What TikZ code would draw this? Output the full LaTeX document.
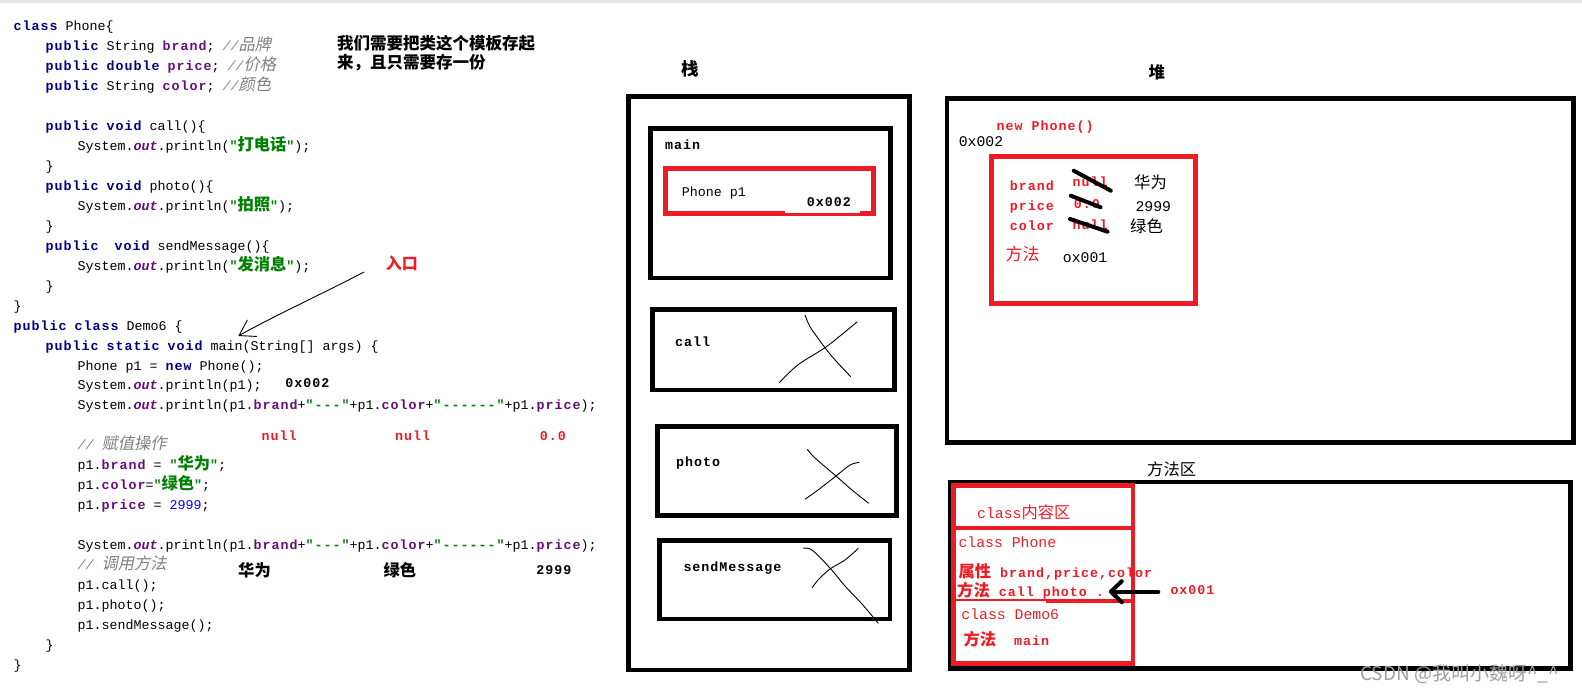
\documentclass[tikz,border=0pt]{standalone}
\usepackage{fontspec}
\setmonofont{Liberation Mono}[BoldFeatures={LetterSpace=7.5}]
\newfontfamily\cjk{Noto Sans CJK SC}[AutoFakeSlant=0.2]
\usetikzlibrary{arrows.meta}

\definecolor{kwblue}{RGB}{0,0,128}
\definecolor{fdpurple}{RGB}{102,14,122}
\definecolor{strgreen}{RGB}{0,128,0}
\definecolor{cmgray}{RGB}{128,128,128}
\definecolor{numblue}{RGB}{0,0,255}
\definecolor{pred}{RGB}{237,28,36}

% 代码着色
\newcommand{\zh}[1]{{\cjk\fontsize{16.3}{18}\selectfont #1}}
\newcommand{\kw}[1]{\textcolor{kwblue}{\bfseries #1}}
\newcommand{\fd}[1]{\textcolor{fdpurple}{\bfseries #1}}
\newcommand{\ot}{\textcolor{fdpurple}{\bfseries\itshape out}}
\newcommand{\st}[1]{\textcolor{strgreen}{\bfseries #1}}
\newcommand{\cm}[1]{\textcolor{cmgray}{\itshape #1}}
\newcommand{\nm}[1]{\textcolor{numblue}{#1}}

\begin{document}
\begin{tikzpicture}[x=1pt, y=-1pt,
  mono/.style={anchor=base west, inner sep=0pt, font=\ttfamily\fontsize{13.33}{16}\selectfont},
  bmono/.style={mono, font=\ttfamily\bfseries\fontsize{13.33}{16}\selectfont},
  lmono/.style={mono, font=\ttfamily\fontsize{14.8}{17}\selectfont},
  zhtxt/.style={anchor=base west, inner sep=0pt, font=\cjk\fontsize{16.3}{18}\selectfont},
  blkframe/.style={draw=black, line width=4.5pt},
  redframe/.style={draw=pred, line width=4.7pt},
  xmark/.style={line width=0.9pt},
  strikeout/.style={line width=4pt, line cap=round}]
    \useasboundingbox (0,0) rectangle (1582,691);
    \draw[black!10, line width=2.5pt] (0,1.3) -- (1582,1.3);

    % 源代码
    \node[mono] (ln0)  at (13.4,30.8)  {\kw{class} Phone\{};
    \node[mono] (ln1)  at (45.4,50.8)  {\kw{public} String \fd{brand}; \cm{//\zh{品牌}}};
    \node[mono] (ln2)  at (45.4,70.7)  {\kw{public} \kw{double} \fd{price}; \cm{//\zh{价格}}};
    \node[mono] (ln3)  at (45.4,90.7)  {\kw{public} String \fd{color}; \cm{//\zh{颜色}}};
    \node[mono] (ln5)  at (45.4,130.6) {\kw{public} \kw{void} call()\{};
    \node[mono] (ln6)  at (77.4,150.5) {System.\ot.println(\st{"\zh{打电话}"});};
    \node[mono] (ln7)  at (45.4,170.5) {\}};
    \node[mono] (ln8)  at (45.4,190.4) {\kw{public} \kw{void} photo()\{};
    \node[mono] (ln9)  at (77.4,210.4) {System.\ot.println(\st{"\zh{拍照}"});};
    \node[mono] (ln10) at (45.4,230.3) {\}};
    \node[mono] (ln11) at (45.4,250.3) {\kw{public}\ \ \kw{void} sendMessage()\{};
    \node[mono] (ln12) at (77.4,270.2) {System.\ot.println(\st{"\zh{发消息}"});};
    \node[mono] (ln13) at (45.4,290.2) {\}};
    \node[mono] (ln14) at (13.4,310.1) {\}};
    \node[mono] (ln15) at (13.4,330.1) {\kw{public} \kw{class} Demo6 \{};
    \node[mono] (ln16) at (45.4,350.0) {\kw{public} \kw{static} \kw{void} main(String[] args) \{};
    \node[mono] (ln17) at (77.4,370.0) {Phone p1 = \kw{new} Phone();};
    \node[mono] (ln18) at (77.4,389.9) {System.\ot.println(p1);};
    \node[mono] (ln19) at (77.4,409.9) {System.\ot.println(p1.\fd{brand}+\st{"---"}+p1.\fd{color}+\st{"------"}+p1.\fd{price});};
    \node[mono] (ln21) at (77.4,449.8) {\cm{// \zh{赋值操作}}};
    \node[mono] (ln22) at (77.4,469.7) {p1.\fd{brand} = \st{"\zh{华为}"};};
    \node[mono] (ln23) at (77.4,489.7) {p1.\fd{color}=\st{"\zh{绿色}"};};
    \node[mono] (ln24) at (77.4,509.6) {p1.\fd{price} = \nm{2999};};
    \node[mono] (ln26) at (77.4,549.5) {System.\ot.println(p1.\fd{brand}+\st{"---"}+p1.\fd{color}+\st{"------"}+p1.\fd{price});};
    \node[mono] (ln27) at (77.4,569.5) {\cm{// \zh{调用方法}}};
    \node[mono] (ln28) at (77.4,589.4) {p1.call();};
    \node[mono] (ln29) at (77.4,609.4) {p1.photo();};
    \node[mono] (ln30) at (77.4,629.3) {p1.sendMessage();};
    \node[mono] (ln31) at (45.4,649.3) {\}};
    \node[mono] (ln32) at (13.4,669.2) {\}};

    % 代码旁的批注
    \node[zhtxt, font=\cjk\bfseries\fontsize{16.5}{18}\selectfont] (note1) at (337,49) {我们需要把类这个模板存起};
    \node[zhtxt, font=\cjk\bfseries\fontsize{16.5}{18}\selectfont] (note2) at (337,68.5) {来，且只需要存一份};
    \node[zhtxt, font=\cjk\bfseries\fontsize{16}{18}\selectfont, text=pred] (entry) at (385.7,269) {入口};
    \coordinate (entTail) at (364,272);
    \coordinate (entTip) at (238.3,336);
    \draw[line width=0.9pt, -{Straight Barb[length=15pt,width=19pt]}] (entTail) .. controls (330,290) and (270,318) .. (entTip);
    \node[bmono] (addr1) at (285.2,387.3) {0x002};
    \node[bmono, text=pred] (nulla) at (261.5,440.7) {null};
    \node[bmono, text=pred] (nullb) at (395,440.7) {null};
    \node[bmono, text=pred] (zeroa) at (539.7,440.7) {0.0};
    \node[zhtxt, font=\cjk\bfseries\fontsize{16.3}{18}\selectfont] (hwa) at (238,576) {华为};
    \node[zhtxt, font=\cjk\bfseries\fontsize{16.3}{18}\selectfont] (lsa) at (383.3,576) {绿色};
    \node[bmono] (pra) at (536.2,574) {2999};

    % 栈
    \node[zhtxt, font=\cjk\bfseries\fontsize{17.5}{20}\selectfont] (stk) at (681.7,75) {栈};
    \draw[blkframe] (628.7,96.7) rectangle (909.3,670);
    \draw[blkframe] (650.7,128.7) rectangle (890.3,278);
    \node[bmono] (mainlbl) at (665,149) {main};
    \draw[redframe] (665.7,168.3) rectangle (873.7,213.3);
    \fill[white] (785,210.8) rectangle (860,213.2);
    \node[mono] (p1lbl) at (681.7,196) {Phone p1};
    \node[bmono] (p1addr) at (806.7,206) {0x002};

    \draw[blkframe] (652.3,309.7) rectangle (894.3,390);
    \node[bmono] (calllbl) at (675,346.5) {call};
    \draw[xmark] plot[smooth] coordinates {(805,315) (810,326.7) (821.7,343.3) (833.3,358) (850.7,376.7)};
    \draw[xmark] plot[smooth] coordinates {(857.3,321.7) (843.3,333.3) (825,347.7) (800,363.3) (786.7,375) (779.3,382.7)};

    \draw[blkframe] (657.3,426.7) rectangle (896.3,515.3);
    \node[bmono] (photolbl) at (676,466.7) {photo};
    \draw[xmark] plot[smooth] coordinates {(807.3,449.3) (815,458) (836,476) (852,490) (868.7,503.3)};
    \draw[xmark] plot[smooth] coordinates {(859.3,462.3) (850,465) (836,476) (818,490) (805,499.3)};

    \draw[blkframe] (659.7,540.7) rectangle (890,619);
    \node[bmono] (sendlbl) at (683.3,571.7) {sendMessage};
    \draw[xmark] plot[smooth] coordinates {(803.3,548.3) (812,550) (830,568) (845,586) (862,604) (878.3,623.3)};
    \draw[xmark] plot[smooth] coordinates {(858.3,548.3) (845,560) (830,569) (818,580) (812.3,587.7)};

    % 堆
    \node[zhtxt, font=\cjk\bfseries\fontsize{16.3}{18}\selectfont] (heap) at (1148.4,78) {堆};
    \draw[blkframe] (947,98.7) rectangle (1573.7,442.7);
    \node[bmono, text=pred] (newph) at (996.5,130) {new Phone()};
    \node[lmono] (objaddr) at (958.6,146.7) {0x002};
    \draw[redframe] (991.2,156.7) rectangle (1195.3,303.2);
    \node[bmono, text=pred] (fbrand) at (1009.6,190) {brand};
    \node[bmono, text=pred] (fprice) at (1009.6,210) {price};
    \node[bmono, text=pred] (fcolor) at (1009.6,230) {color};
    \node[bmono, text=pred] (vbrand) at (1072.4,186.7) {null};
    \node[bmono, text=pred] (vprice) at (1073.7,208.3) {0.0};
    \node[bmono, text=pred] (vcolor) at (1072.4,229) {null};
    \draw[strikeout] (1073.7,170.7) -- (1110.8,190.7);
    \draw[strikeout] (1070.8,195.7) -- (1100.6,207.3);
    \draw[strikeout] (1070,219) -- (1107.6,231.7);
    \node[zhtxt] (nbrand) at (1134,188) {华为};
    \node[lmono] (nprice) at (1135.3,211.7) {2999};
    \node[zhtxt] (ncolor) at (1130,232) {绿色};
    \node[zhtxt, text=pred, font=\cjk\fontsize{17}{18}\selectfont] (fmeth) at (1005.5,260) {方法};
    \node[lmono] (methaddr) at (1062.7,262.3) {ox001};

    % 方法区
    \node[zhtxt] (marea) at (1147,475.5) {方法区};
    \draw[blkframe] (950.2,482.2) rectangle (1570.3,668.3);
    \draw[redframe] (953.5,485.5) rectangle (1133,663.8);
    \draw[pred, line width=4pt] (953.5,528) -- (1133,528);
    \draw[pred, line width=4pt] (1045.6,601.3) -- (1133,601.3);
    \draw[pred, line width=1.4pt] (953.5,600) -- (1045.6,600);
    \node[lmono, text=pred] (clsarea) at (977,518.3) {class\zh{内容区}};
    \node[lmono, text=pred] (clsph) at (958.3,547.3) {class Phone};
    \node[bmono, text=pred] (clsattr) at (958.3,577.3) {\zh{属性} brand,price,color};
    \node[bmono, text=pred] (clsmeth) at (957,596.7) {\zh{方法} call photo . .};
    \node[bmono, text=pred] (ox1m) at (1170.3,594) {ox001};
    \coordinate (mtip) at (1108.8,591.7);
    \draw[line width=4pt, line cap=round, shorten <=12pt, -{Straight Barb[length=11pt,width=21pt,round]}] (ox1m.west |- mtip) -- (mtip);
    \node[lmono, text=pred] (clsdemo) at (961.2,619) {class Demo6};
    \node[bmono, text=pred] (demometh) at (963.3,645) {\zh{方法}~~main};

    \node[anchor=base west, inner sep=0pt, text=black!38, font=\cjk\fontsize{19}{22}\selectfont] (wm) at (1360,680) {CSDN @我叫小魏呀\textasciicircum\_\textasciicircum};
\end{tikzpicture}
\end{document}
